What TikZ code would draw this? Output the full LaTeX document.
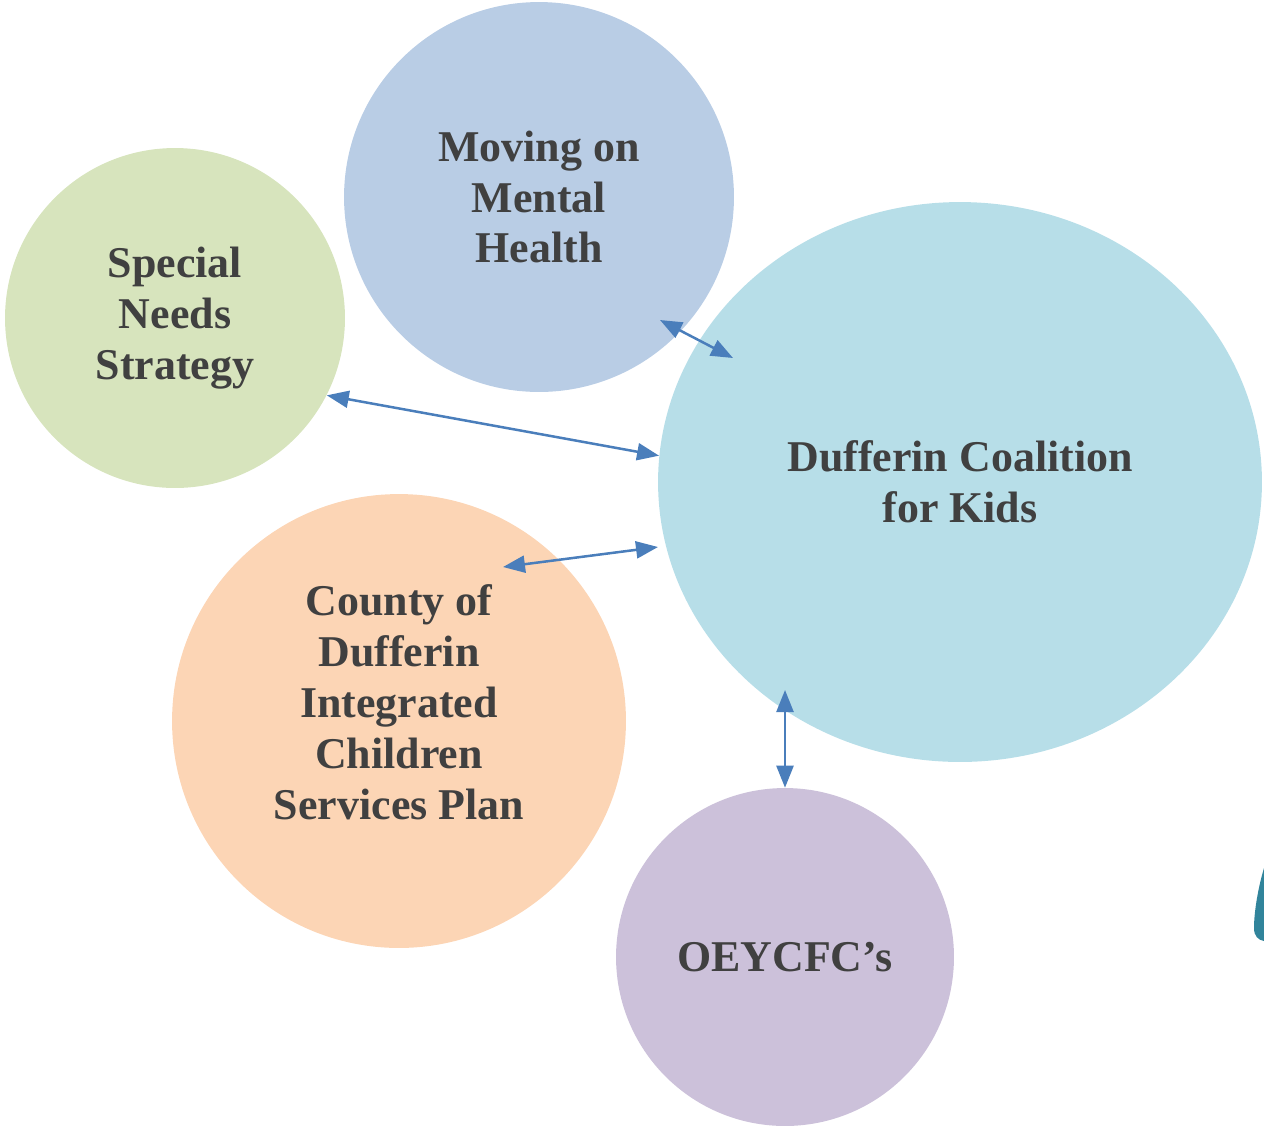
\documentclass[tikz,border=0pt]{standalone}
\usepackage{fontspec}
\setmainfont{Liberation Serif}
\usetikzlibrary{shapes.geometric,arrows.meta}
\definecolor{sngreen}{HTML}{D7E4BD}
\definecolor{mhblue}{HTML}{B9CDE5}
\definecolor{dckblue}{HTML}{B7DEE8}
\definecolor{cdpeach}{HTML}{FCD5B5}
\definecolor{oeylilac}{HTML}{CCC1DA}
\definecolor{linkblue}{HTML}{4A7EBB}
\definecolor{txtgray}{HTML}{404040}
\definecolor{tealmark}{HTML}{31849B}
\tikzset{
	bubble/.style={circle,inner sep=0pt,draw=none,align=center,text=txtgray,
		font=\fontsize{25}{29}\selectfont\bfseries},
	txt/.style={align=center,text=txtgray,font=\fontsize{25}{29}\selectfont\bfseries},
	link/.style={linkblue,line width=0.05cm,{Triangle[length=0.44cm,width=0.34cm]}-{Triangle[length=0.44cm,width=0.34cm]}}
}
\begin{document}
\begin{tikzpicture}[x=0.02cm,y=-0.02cm]
	\useasboundingbox (0,0) rectangle (1264,1127);
	\node[bubble,fill=mhblue,minimum size=7.8cm] (mmh) at (539,197) {Moving on\\Mental\\Health};
	\node[bubble,fill=sngreen,minimum size=6.8cm] (sns) at (175,318) {Special\\Needs\\Strategy};
	\node[bubble,fill=cdpeach,minimum size=9.08cm] (cdi) at (399,721) {};
	\node[txt] (cditext) at (399,702) {County of\\Dufferin\\Integrated\\Children\\Services Plan};
	\node[bubble,ellipse,fill=dckblue,minimum width=12.08cm,minimum height=11.2cm] (dck) at (960,482) {Dufferin Coalition\\for Kids};
	\node[bubble,fill=oeylilac,minimum size=6.76cm] (oey) at (785,957) {OEYCFC’s};
	
	\fill[tealmark] (1264,868) .. controls (1258,888) and (1254,912) .. (1254,928)
		.. controls (1254,936) and (1258,940) .. (1264,941) -- cycle;
	
	\coordinate (mmhend) at (660,320);
	\coordinate (dcktop) at (733,358);
	\coordinate (cdiend) at (503,567);
	\coordinate (dckleft) at (658,547);
	\coordinate (dckbot) at (785,690);
	\draw[link] (mmhend) -- (dcktop);
	\draw[link] (sns.-27) -- (dck.175);
	\draw[link] (cdiend) -- (dckleft);
	\draw[link] (dckbot) -- (oey.north);
\end{tikzpicture}
\end{document}
